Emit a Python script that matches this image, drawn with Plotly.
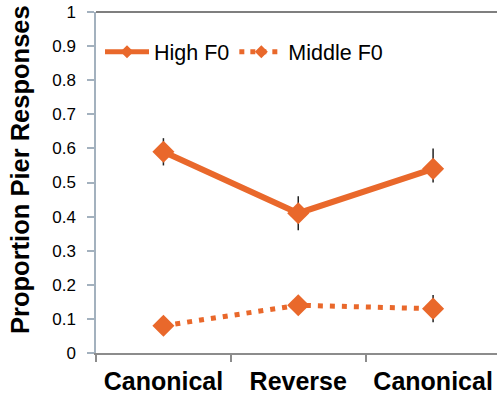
import plotly.graph_objects as go

conditions = ["Canonical", "Reverse", "Canonical"]
x_pos = [0, 1, 2]
high_f0 = [0.59, 0.41, 0.54]
high_err_up = [0.04, 0.05, 0.06]
high_err_down = [0.04, 0.05, 0.04]
middle_f0 = [0.08, 0.14, 0.13]
middle_err_up = [0.02, 0.02, 0.04]
middle_err_down = [0.02, 0.02, 0.04]
y_ticks = [0, 0.1, 0.2, 0.3, 0.4, 0.5, 0.6, 0.7, 0.8, 0.9, 1]
y_tick_text = ["0", "0.1", "0.2", "0.3", "0.4", "0.5", "0.6", "0.7", "0.8", "0.9", "1"]
y_title = "Proportion Pier Responses"

ORANGE = "#E9682B"
FONT = "Liberation Sans, Arial, sans-serif"

fig = go.Figure()

fig.add_trace(go.Scatter(
    x=x_pos, y=high_f0, mode="lines+markers", showlegend=False,
    line=dict(color=ORANGE, width=6),
    marker=dict(symbol="diamond", size=17, color=ORANGE),
    error_y=dict(type="data", symmetric=False, array=high_err_up, arrayminus=high_err_down,
                 color="#222222", thickness=1.5, width=0),
))
fig.add_trace(go.Scatter(
    x=x_pos, y=middle_f0, mode="lines+markers", showlegend=False,
    line=dict(color=ORANGE, width=5, dash="5px,7px"),
    marker=dict(symbol="diamond", size=17, color=ORANGE),
    error_y=dict(type="data", symmetric=False, array=middle_err_up, arrayminus=middle_err_down,
                 color="#222222", thickness=1.5, width=0),
))
# legend entries
fig.add_trace(go.Scatter(
    x=[None], y=[None], mode="lines+markers", name="High F0",
    line=dict(color=ORANGE, width=5),
    marker=dict(symbol="diamond", size=10, color=ORANGE),
))
fig.add_trace(go.Scatter(
    x=[None], y=[None], mode="lines+markers", name="Middle F0",
    line=dict(color=ORANGE, width=5, dash="5px,6px"),
    marker=dict(symbol="diamond", size=10, color=ORANGE),
))

fig.update_layout(
    width=497, height=398,
    margin=dict(l=96, r=0, t=12, b=45),
    paper_bgcolor="white", plot_bgcolor="white",
    font=dict(family=FONT, color="black"),
    showlegend=True,
    legend=dict(orientation="h", x=0.01, xanchor="left", y=0.883, yanchor="middle",
                font=dict(size=21.5, family=FONT, color="black"),
                itemwidth=44, bgcolor="rgba(0,0,0,0)", borderwidth=0),
    xaxis=dict(
        range=[-0.5, 2.474], tickvals=x_pos, ticktext=conditions,
        ticks="", showgrid=False, zeroline=False, automargin=False,
        showline=True, linecolor="#8C8C8C", linewidth=1.5,
        tickfont=dict(size=25, family=FONT, color="black", weight="bold"),
        ticklabelstandoff=5,
        minor=dict(tickvals=[-0.5, 0.5, 1.5], ticks="outside", ticklen=7,
                   tickcolor="#8C8C8C", tickwidth=1.5, showgrid=False),
    ),
    yaxis=dict(
        range=[0, 1], tickvals=y_ticks, ticktext=y_tick_text,
        ticks="outside", ticklen=7, tickcolor="#A3B1BE", tickwidth=1.5,
        showgrid=False, zeroline=False, automargin=False,
        showline=True, linecolor="#A3B1BE", linewidth=1.5,
        tickfont=dict(size=17, family=FONT, color="black"),
        ticklabelstandoff=8,
    ),
    annotations=[dict(text="<b>" + y_title + "</b>", textangle=-90,
                      xref="paper", yref="paper", x=(20 - 96) / 401, y=(353 - 170) / 341,
                      xanchor="center", yanchor="middle", showarrow=False,
                      font=dict(size=25.5, family=FONT, color="black"))],
    shapes=[dict(type="line", xref="paper", yref="paper", x0=0, x1=1, y0=1, y1=1,
                 line=dict(color="#555555", width=1.5))],
)

fig.write_html("out.html")
